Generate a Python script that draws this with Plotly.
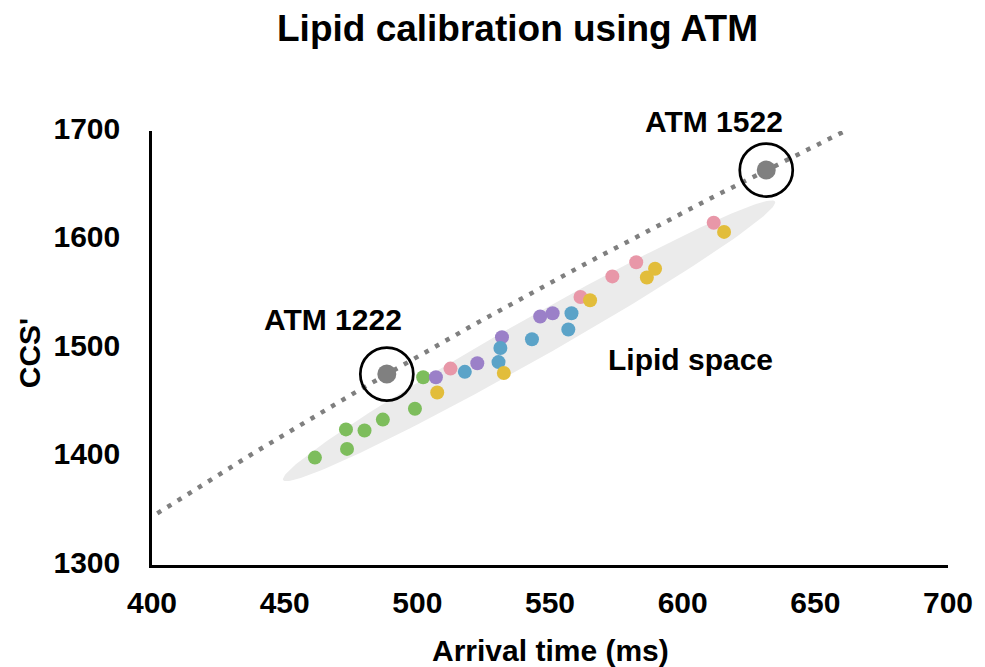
import numpy as np
import plotly.graph_objects as go

# ---------------- data ----------------
green_x = [461.4, 473.1, 473.5, 480.1, 487.0, 499.1, 502.2]
green_y = [1399, 1425, 1407, 1424, 1434, 1444, 1473]
purple_x = [507.0, 522.6, 531.9, 546.3, 551.0]
purple_y = [1473, 1486, 1510, 1529, 1532]
pink_x = [512.5, 561.5, 573.5, 582.5, 611.7]
pink_y = [1481, 1547, 1566, 1579, 1615.5]
blue_x = [517.9, 531.3, 530.6, 543.2, 556.9, 558.1]
blue_y = [1478, 1500, 1487, 1508, 1517, 1532]
yellow_x = [507.5, 532.6, 565.1, 586.5, 589.6, 615.6]
yellow_y = [1459, 1477, 1544, 1565, 1573, 1607]

atm_labels = ["ATM 1222", "ATM 1522"]
atm_x = [488.5, 631.5]
atm_y = [1476, 1664]

trend_x_range = [402, 661]          # extent of the power trendline
x_ticks = [400, 450, 500, 550, 600, 650, 700]
y_ticks = [1300, 1400, 1500, 1600, 1700]

# lipid-space ellipse: end points (data) and half-thickness (px)
ell_tip_x = [449.4, 634.8]
ell_tip_y = [1378.3, 1635.0]
ell_half_minor_px = 20.5

# ---------------- layout geometry ----------------
# the page body has an 8px margin, so the figure is sized to fit the window
BODY = 8
W, H = 985 - BODY, 667 - BODY
ML, MR, MT, MB = 152 - BODY, 32, 131 - BODY, 102
XR = [400, 700]
YR = [1300, 1700]
pw = W - ML - MR
ph = H - MT - MB
sx = pw / (XR[1] - XR[0])
sy = ph / (YR[1] - YR[0])
AXIS_BOTTOM = 565   # window pixel row of the x axis


def paper_y(py):
    return (AXIS_BOTTOM - py) / ph


FONT = "Liberation Sans"

fig = go.Figure()

# ellipse (computed in pixel space, mapped to data)
ax_ = np.array(ell_tip_x) * sx
ay_ = np.array(ell_tip_y) * sy
cx, cy = ax_.mean(), ay_.mean()
a = 0.5 * np.hypot(ax_[1] - ax_[0], ay_[1] - ay_[0])
th = np.arctan2(ay_[1] - ay_[0], ax_[1] - ax_[0])
t = np.linspace(0, 2 * np.pi, 200)
ex = cx + a * np.cos(t) * np.cos(th) - ell_half_minor_px * np.sin(t) * np.sin(th)
ey = cy + a * np.cos(t) * np.sin(th) + ell_half_minor_px * np.sin(t) * np.cos(th)
fig.add_trace(go.Scatter(x=ex / sx, y=ey / sy, mode="lines", fill="toself",
                         fillcolor="#ebebeb", line=dict(width=0),
                         hoverinfo="skip", showlegend=False))

# power trendline through the ATM calibrants
k = np.log(atm_y[1] / atm_y[0]) / np.log(atm_x[1] / atm_x[0])
A = atm_y[0] / atm_x[0] ** k
tx = np.linspace(trend_x_range[0], trend_x_range[1], 120)
fig.add_trace(go.Scatter(x=tx, y=A * tx ** k, mode="lines",
                         line=dict(color="#7f7f7f", width=4.5, dash="4.5px,7.5px"),
                         hoverinfo="skip", showlegend=False))

series = [
    (green_x, green_y, "#7dbd5c"),
    (purple_x, purple_y, "#9b80c8"),
    (pink_x, pink_y, "#e897a8"),
    (blue_x, blue_y, "#5ba3c8"),
    (yellow_x, yellow_y, "#e2bd3b"),
]
for xs, ys, c in series:
    fig.add_trace(go.Scatter(x=xs, y=ys, mode="markers",
                             marker=dict(size=14, color=c, line=dict(width=0)),
                             showlegend=False))

fig.add_trace(go.Scatter(x=atm_x, y=atm_y, mode="markers",
                         marker=dict(size=19, color="#808080", line=dict(width=0)),
                         showlegend=False))
fig.add_trace(go.Scatter(x=atm_x, y=atm_y, mode="markers",
                         marker=dict(size=53, symbol="circle-open", color="black",
                                     line=dict(width=2.7, color="black")),
                         showlegend=False))

bold = dict(family=FONT, size=30, color="black", weight="bold")

# labels
fig.add_annotation(x=468.2, y=1526, text=atm_labels[0], showarrow=False,
                   font=bold, xanchor="center", yanchor="middle")
fig.add_annotation(x=611.8, yref="paper", y=paper_y(121), text=atm_labels[1],
                   showarrow=False, font=bold, xanchor="center", yanchor="middle")
fig.add_annotation(x=603, y=1489, text="Lipid space", showarrow=False,
                   font=bold, xanchor="center", yanchor="middle")

# axis titles (positions given in window pixels)
fig.add_annotation(xref="paper", yref="paper", x=0.5, y=paper_y(650),
                   text="Arrival time (ms)", showarrow=False, font=bold,
                   xanchor="center", yanchor="middle")
fig.add_annotation(xref="paper", yref="paper", x=(28.5 - 152) / pw,
                   y=paper_y(353), text="CCS'", textangle=-90,
                   showarrow=False, font=bold, xanchor="center", yanchor="middle")

fig.update_layout(
    width=W, height=H,
    margin=dict(l=ML, r=MR, t=MT, b=MB, pad=0),
    paper_bgcolor="white", plot_bgcolor="white",
    title=dict(text="Lipid calibration using ATM", x=(517.5 - BODY) / W, xanchor="center",
               y=1 - (28 - BODY) / H, yanchor="middle", yref="container",
               font=dict(family=FONT, size=37, color="black", weight="bold")),
    xaxis=dict(range=XR, tickvals=x_ticks, showgrid=False, zeroline=False,
               showline=True, linecolor="black", linewidth=2.5, ticks="",
               tickfont=bold, ticklabelstandoff=9),
    yaxis=dict(range=YR, tickvals=y_ticks, showgrid=False, zeroline=False,
               showline=True, linecolor="black", linewidth=2.5, ticks="",
               tickfont=bold, ticklabelstandoff=23, ticklabelshift=-3),
    showlegend=False,
)

fig.write_html("out.html")
